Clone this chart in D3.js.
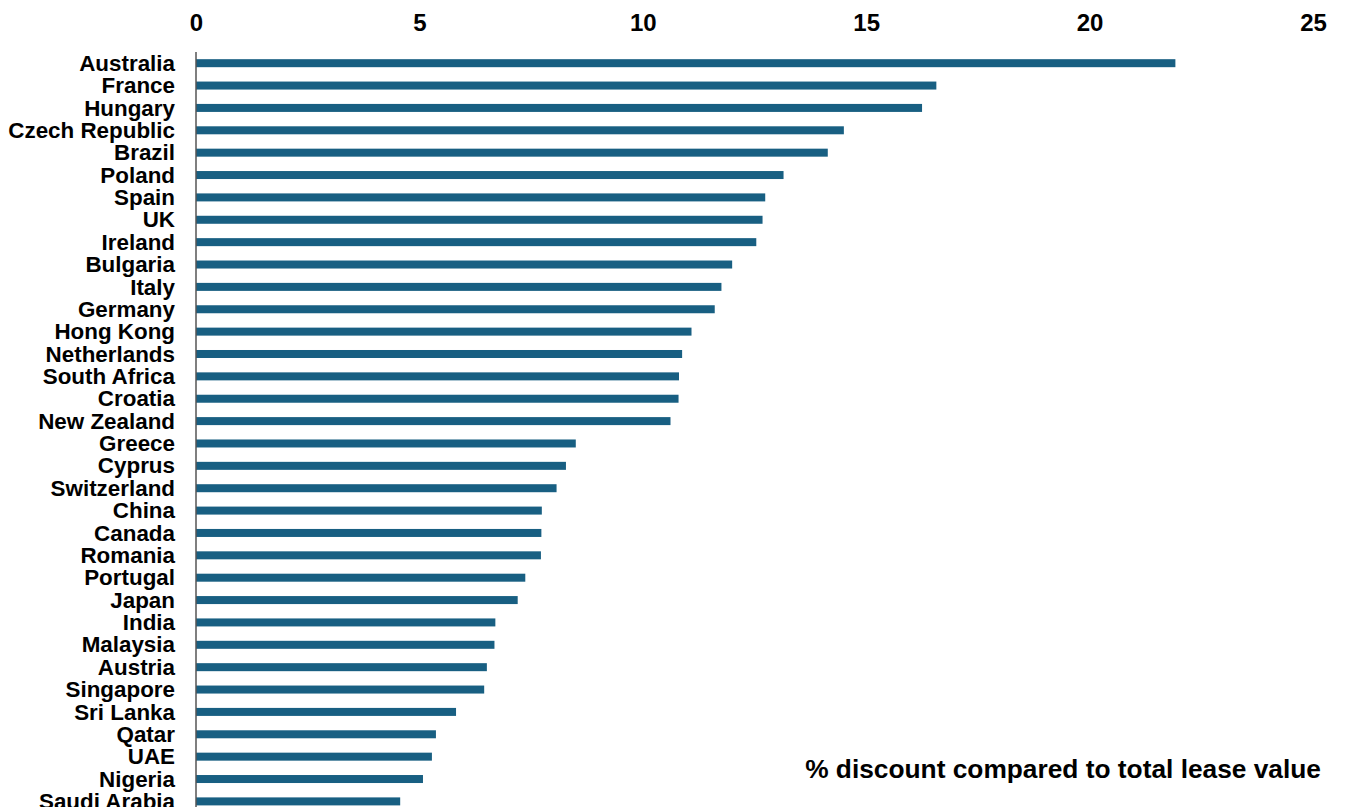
<!DOCTYPE html>
<html>
<head>
<meta charset="utf-8">
<script src="https://cdn.jsdelivr.net/npm/d3@7"></script>
<style>
  html, body { margin: 0; padding: 0; background: #fff; overflow: hidden; }
  svg { display: block; font-family: "Liberation Sans", Arial, sans-serif; }
</style>
</head>
<body>
<svg id="chart" width="1348" height="807"></svg>
<script>
const countries = ["Australia","France","Hungary","Czech Republic","Brazil","Poland","Spain","UK","Ireland","Bulgaria","Italy","Germany","Hong Kong","Netherlands","South Africa","Croatia","New Zealand","Greece","Cyprus","Switzerland","China","Canada","Romania","Portugal","Japan","India","Malaysia","Austria","Singapore","Sri Lanka","Qatar","UAE","Nigeria","Saudi Arabia"];
const discounts = [21.92,16.57,16.25,14.5,14.14,13.15,12.74,12.68,12.54,12.0,11.76,11.61,11.09,10.88,10.81,10.8,10.62,8.5,8.28,8.07,7.74,7.73,7.72,7.37,7.2,6.7,6.68,6.51,6.45,5.82,5.37,5.28,5.08,4.57];
const xTicks = [0,5,10,15,20,25];
const axisTitle = "% discount compared to total lease value";

const svg = d3.select("#chart");
const mLeft = 196, mRight = 1313, mTop = 52, rowH = 22.37;

const x = d3.scaleLinear().domain([0, 25]).range([mLeft, mRight]);
const y = d3.scaleBand().domain(countries)
  .range([mTop, mTop + rowH * countries.length])
  .paddingInner(0.64).paddingOuter(0.32);

const data = countries.map((c, i) => ({c, v: discounts[i]}));

// bars
svg.append("g").selectAll("rect").data(data).join("rect")
  .attr("x", x(0))
  .attr("y", d => y(d.c) + y.bandwidth()/2 - 4)
  .attr("width", d => x(d.v) - x(0))
  .attr("height", 8)
  .attr("fill", "#185f82");

// top axis
const xAxis = svg.append("g")
  .attr("transform", `translate(0,${mTop})`)
  .call(d3.axisTop(x).tickValues(xTicks).tickSize(0).tickPadding(21).tickFormat(d3.format("d")));
xAxis.select(".domain").remove();
xAxis.selectAll("text")
  .attr("font-size", 24).attr("font-weight", "bold").attr("fill", "#000")
  .attr("font-family", "'Liberation Sans', Arial, sans-serif");

// left axis
const yAxis = svg.append("g")
  .attr("transform", `translate(${mLeft},0)`)
  .call(d3.axisLeft(y).tickSize(0).tickPadding(21));
yAxis.select(".domain").remove();
yAxis.selectAll("text")
  .attr("font-size", 22.4).attr("font-weight", "bold").attr("fill", "#000")
  .attr("dy", "0.34em")
  .attr("font-family", "'Liberation Sans', Arial, sans-serif");

svg.append("line")
  .attr("x1", mLeft).attr("x2", mLeft)
  .attr("y1", mTop).attr("y2", 830)
  .attr("stroke", "#555").attr("stroke-width", 1.5);

// axis title
svg.append("text")
  .attr("x", 1321).attr("y", 778)
  .attr("text-anchor", "end")
  .attr("font-size", 26.3).attr("font-weight", "bold").attr("fill", "#000")
  .text(axisTitle);
</script>
</body>
</html>
